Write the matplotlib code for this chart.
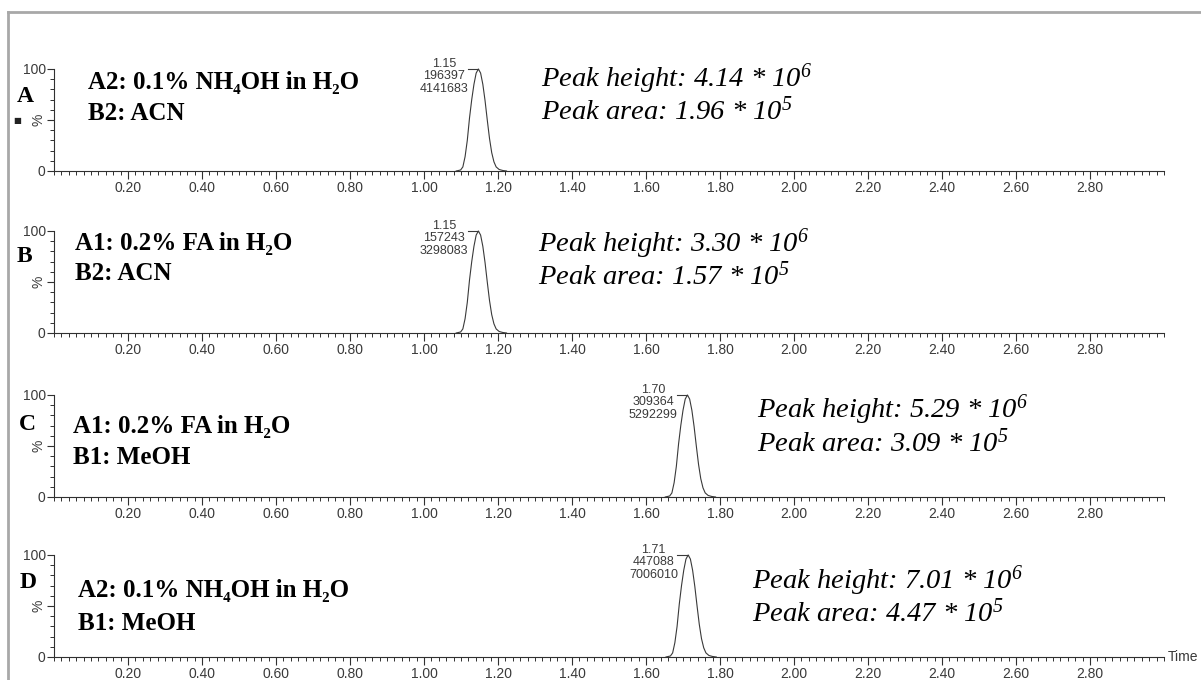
import matplotlib
matplotlib.use("Agg")
import matplotlib.pyplot as plt
from matplotlib.lines import Line2D
from matplotlib.ticker import FixedLocator, MultipleLocator

plt.rcParams['mathtext.fontset'] = 'custom'
plt.rcParams['mathtext.rm'] = 'Liberation Serif:italic'
plt.rcParams['mathtext.it'] = 'Liberation Serif:italic'

# ---------------- data ----------------
panel_letters = ['A', 'B', 'C', 'D']
mobile_a = ['A2: 0.1% NH₄OH in H₂O', 'A1: 0.2% FA in H₂O',
            'A1: 0.2% FA in H₂O', 'A2: 0.1% NH₄OH in H₂O']
mobile_b = ['B2: ACN', 'B2: ACN', 'B1: MeOH', 'B1: MeOH']
peak_rt = [1.15, 1.15, 1.70, 1.71]             # labelled retention times (min)
peak_apex = [1.147, 1.147, 1.712, 1.714]        # apex position as drawn (min)
peak_area_lbl = [196397, 157243, 309364, 447088]
peak_height_lbl = [4141683, 3298083, 5292299, 7006010]
height_txt = ['4.14', '3.30', '5.29', '7.01']
area_txt = ['1.96', '1.57', '3.09', '4.47']
# peak shape (offset from apex in min, % intensity)
profile_offset = [-0.060, -0.048, -0.042, -0.036, -0.030, -0.024, -0.018, -0.012,
                  -0.006, 0.000, 0.006, 0.012, 0.018, 0.024, 0.030, 0.036,
                  0.042, 0.048, 0.056, 0.066, 0.076]
profile_pct = [0, 1, 4, 14, 30, 52, 70, 85, 96, 100, 96, 85, 69, 50, 32, 18,
               9, 4, 1.5, 0.5, 0]
x_tick_vals = [0.20, 0.40, 0.60, 0.80, 1.00, 1.20, 1.40, 1.60, 1.80, 2.00,
               2.20, 2.40, 2.60, 2.80]
x_tick_labels = ['0.20', '0.40', '0.60', '0.80', '1.00', '1.20', '1.40', '1.60',
                 '1.80', '2.00', '2.20', '2.40', '2.60', '2.80']

# ---------------- layout (pixel geometry of the reference) ----------------
W, H = 1201, 680
fig = plt.figure(figsize=(W / 100, H / 100), dpi=100)
fig.patch.set_facecolor('white')

def fx(x):
    return x / W

def fy(y):
    return 1 - y / H

ax_left, ax_right = 54, 1164
ax_bottoms = [171, 333, 497, 657]
ax_h = 102

letter_pos = [(17, 96), (17, 256), (19, 425), (20, 582)]
mob_pos = [(88, 82, 113), (75, 243, 273), (73, 427, 458), (78, 590, 623)]
peak_txt_pos = [(541, 79, 111), (538, 244, 276), (757, 410, 443), (752, 581, 613)]

tick_color = '#3a3a3a'
sans = 'Liberation Sans'
serif = ['Liberation Serif', 'DejaVu Serif']

for i in range(4):
    b = ax_bottoms[i]
    ax = fig.add_axes([fx(ax_left), fy(b), (ax_right - ax_left) / W, ax_h / H])
    xs = [peak_apex[i] + o for o in profile_offset]
    ax.plot(xs, profile_pct, color='#3a3a3a', lw=0.8, clip_on=False)
    ax.set_xlim(0, 3.0)
    ax.set_ylim(0, 100)
    for s in ['top', 'right']:
        ax.spines[s].set_visible(False)
    for s in ['left', 'bottom']:
        ax.spines[s].set_color('#303030')
        ax.spines[s].set_linewidth(0.8)
    ax.xaxis.set_major_locator(FixedLocator(x_tick_vals))
    ax.set_xticklabels(x_tick_labels)
    ax.xaxis.set_minor_locator(MultipleLocator(0.02))
    ax.tick_params(axis='x', which='major', length=6, width=0.8, color='#303030',
                   labelsize=10, labelcolor=tick_color, pad=1)
    ax.tick_params(axis='x', which='minor', length=3, width=0.7, color='#303030')
    ax.set_yticks([0, 50, 100])
    ax.set_yticklabels(['0', '%', '100'])
    ax.yaxis.set_minor_locator(MultipleLocator(10))
    ax.tick_params(axis='y', which='major', length=5, width=0.8, color='#303030',
                   labelsize=10, labelcolor=tick_color, pad=1)
    ax.tick_params(axis='y', which='minor', length=3, width=0.7, color='#303030')
    for lab in ax.get_xticklabels() + ax.get_yticklabels():
        lab.set_family(sans)
    ax.get_yticklabels()[1].set_rotation(90)
    ax.get_yticklabels()[1].set_va('center')
    ax.patch.set_alpha(0)

    # peak annotation (apex marker line and labels)
    xa = peak_apex[i]
    ax.plot([xa - 0.029, xa], [100, 100], color='#3a3a3a', lw=0.8, clip_on=False)
    ax.text(xa - 0.027, 93, f'{peak_rt[i]:.2f}\n{peak_area_lbl[i]}\n{peak_height_lbl[i]}',
            ha='right', va='center', multialignment='center', fontsize=9,
            family=sans, color='#3a3a3a', linespacing=1.05)

    if i == 3:
        ax.text(3.01, 0, 'Time', ha='left', va='center', fontsize=10, family=sans,
                color=tick_color, transform=ax.transData)

    # panel letter and mobile phases
    lx, ly = letter_pos[i]
    fig.text(fx(lx), fy(ly), panel_letters[i], ha='left', va='center',
             fontsize=17, fontweight='bold', family=serif)
    mx, my1, my2 = mob_pos[i]
    fig.text(fx(mx), fy(my1), mobile_a[i], ha='left', va='center',
             fontsize=18, fontweight='bold', family=serif)
    fig.text(fx(mx), fy(my2), mobile_b[i], ha='left', va='center',
             fontsize=18, fontweight='bold', family=serif)

    px, py1, py2 = peak_txt_pos[i]
    fig.text(fx(px), fy(py1), f'Peak height: {height_txt[i]} * 10$^{{6}}$',
             ha='left', va='center', fontsize=20.5, style='italic', family=serif)
    fig.text(fx(px), fy(py2), f'Peak area: {area_txt[i]} * 10$^{{5}}$',
             ha='left', va='center', fontsize=20.5, style='italic', family=serif)

# small marker square at left of panel A
fig.text(fx(17), fy(121), '■', ha='center', va='center', fontsize=6,
         family='DejaVu Sans', color='#222222')

# grey frame (left and top edges)
fig.add_artist(Line2D([fx(8), fx(8)], [0, fy(12)], color='#a8a8a8', lw=2))
fig.add_artist(Line2D([fx(8), 1], [fy(12), fy(12)], color='#a8a8a8', lw=2))

fig.savefig('out.png', dpi=100)
